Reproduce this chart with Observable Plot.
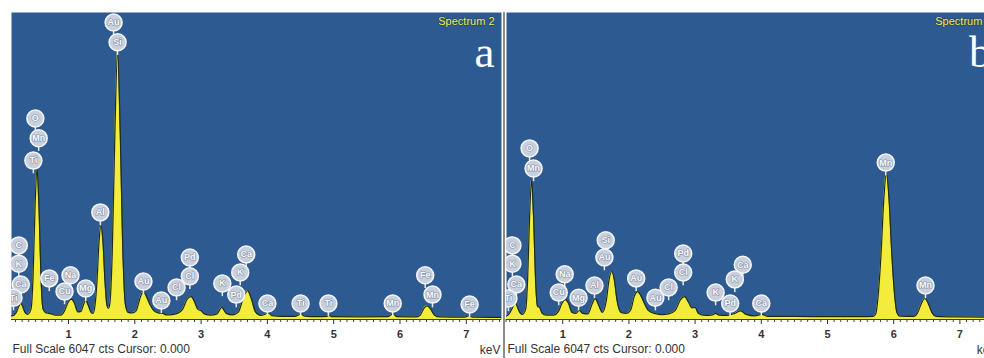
<!DOCTYPE html>
<html><head><meta charset="utf-8">
<script src="https://cdn.jsdelivr.net/npm/d3@7"></script>
<script src="https://cdn.jsdelivr.net/npm/@observablehq/plot@0.6"></script>
<style>
html,body{margin:0;padding:0;background:#fff;}
#wrap{position:relative;width:984px;height:358px;overflow:hidden;background:#fff;}
#pa{position:absolute;left:0;top:0;width:501px;}
#pb{position:absolute;left:506px;top:0;width:492px;}
#wrap svg{max-width:none !important;display:block;}
#sep{position:absolute;left:503px;top:12px;width:2px;height:346px;background:#8c8c8c;}
</style></head><body>
<div id="wrap"><div id="pa"></div><div id="sep"></div><div id="pb"></div></div>
<script>
// ---- data (keV, counts) ----
const fullScale = 6047;
const footerText = "Full Scale 6047 cts Cursor: 0.000";
const unitLabel = "keV";
const spectrumTitle = "Spectrum 2";
const panelLetters = ["a", "b"];
const majorTicks = [1, 2, 3, 4, 5, 6, 7];

const spectrumA = [[0.14,70],[0.18,90],[0.22,160],[0.25,260],[0.28,315],[0.31,250],[0.34,150],[0.38,100],
[0.435,210],[0.465,830],[0.495,2200],[0.525,2980],[0.555,2200],[0.585,830],[0.615,210],[0.65,140],
[0.70,120],[0.74,110],[0.80,85],[0.88,85],[0.94,170],[0.99,330],[1.04,400],[1.09,320],[1.14,150],[1.19,160],
[1.22,270],[1.26,375],[1.30,270],[1.34,140],[1.37,120],[1.40,280],[1.43,760],[1.46,1520],[1.49,1850],[1.52,1520],
[1.55,760],[1.58,280],[1.60,220],[1.62,280],[1.66,1330],[1.70,3700],[1.74,5300],[1.78,3700],[1.82,1330],[1.86,280],
[1.90,140],[1.96,130],[2.02,170],[2.07,380],[2.11,520],[2.14,530],[2.18,440],[2.23,290],[2.29,170],[2.35,130],
[2.42,120],[2.48,90],[2.56,95],[2.64,120],[2.72,200],[2.79,400],[2.85,450],[2.90,350],[2.95,200],[3.00,170],
[3.05,110],[3.14,85],[3.24,110],[3.31,240],[3.38,120],[3.47,90],[3.56,140],[3.63,400],[3.70,570],[3.76,400],
[3.82,150],[3.90,80],[3.96,100],[4.01,130],[4.07,75],[4.20,60],[4.42,60],[4.47,90],[4.51,110],[4.56,65],
[4.75,55],[4.89,60],[4.93,80],[4.97,55],[5.40,50],[5.82,55],[5.86,90],[5.90,110],[5.95,55],[6.24,50],
[6.30,80],[6.36,220],[6.41,270],[6.46,210],[6.52,85],[6.60,50],[6.96,45],[7.04,70],[7.09,45],[7.53,40]];

const spectrumB = [[0.15,70],[0.19,110],[0.23,200],[0.26,280],[0.29,315],[0.32,230],[0.35,140],[0.39,100],
[0.44,200],[0.47,780],[0.50,2030],[0.53,2740],[0.56,2030],[0.59,780],[0.62,260],[0.65,240],[0.69,120],
[0.75,85],[0.86,85],[0.94,170],[0.99,320],[1.04,390],[1.09,310],[1.14,140],[1.20,120],[1.25,180],[1.30,120],
[1.38,110],[1.44,290],[1.49,410],[1.54,290],[1.60,140],[1.66,380],[1.70,780],[1.74,945],[1.78,780],[1.82,380],
[1.88,140],[1.96,120],[2.03,200],[2.08,450],[2.13,550],[2.18,470],[2.24,300],[2.30,170],[2.40,115],[2.50,95],
[2.60,110],[2.70,180],[2.78,390],[2.84,450],[2.90,340],[2.95,230],[3.00,236],[3.05,120],[3.15,80],[3.26,90],
[3.31,120],[3.36,85],[3.48,80],[3.60,120],[3.69,170],[3.77,100],[3.90,70],[4.01,100],[4.10,60],[4.50,60],
[5.00,55],[5.50,55],[5.69,60],[5.73,120],[5.77,540],[5.81,1320],[5.85,2360],[5.89,2880],[5.93,2360],[5.97,1320],
[6.01,540],[6.05,130],[6.09,65],[6.30,60],[6.36,130],[6.42,320],[6.47,414],[6.52,320],[6.58,130],[6.64,60],
[7.00,50],[7.60,45]];

// element markers: [element, keV, counts level]
const labelsA = [["Au",1.68,5850],["Si",1.74,5460],["O",0.50,3960],["Mn",0.55,3570],["Ti",0.47,3130],
["C",0.25,1460],["K",0.25,1100],["Ca",0.28,690],["Ti",0.17,430],
["Fe",0.71,810],["Cu",0.94,550],["Na",1.03,870],["Mg",1.26,610],["Al",1.48,2110],
["Au",2.13,750],["Au",2.40,375],["Cl",2.63,630],["Pd",2.83,1220],["Cl",2.83,850],
["K",3.32,710],["Ca",3.68,1280],["K",3.59,925],["Pd",3.53,490],["Ca",4.00,315],
["Ti",4.50,315],["Ti",4.92,315],["Mn",5.89,315],["Fe",6.38,870],["Mn",6.49,490],["Fe",7.05,295]];

const labelsB = [["O",0.50,3370],["Mn",0.56,2975],["C",0.24,1460],["K",0.24,1100],["Ca",0.30,690],["Ti",0.18,415],
["Na",1.03,890],["Cu",0.94,530],["Mg",1.24,430],["Al",1.48,670],["Si",1.65,1560],["Au",1.63,1220],
["Au",2.11,810],["Au",2.40,430],["Cl",2.60,630],["Pd",2.82,1300],["Cl",2.82,925],
["K",3.31,530],["Ca",3.72,1080],["K",3.60,790],["Pd",3.53,315],["Ca",4.00,315],
["Mn",5.88,3090],["Mn",6.48,670]];

const minorTicks = d3.range(2, 77).filter(i => i % 10 !== 0).map(i => i / 10);

function panel(spec, labels, letter, xDomain, width, marginLeft) {
  const stem = 260;
  return Plot.plot({
    width, height: 358, marginTop: 12, marginBottom: 39, marginLeft, marginRight: 0,
    x: {domain: xDomain, axis: null},
    y: {domain: [0, fullScale], axis: null},
    style: {background: "transparent", fontFamily: "'Liberation Sans', Arial, sans-serif", overflow: "visible", maxWidth: "none"},
    marks: [
      Plot.frame({fill: "#2e5a92", stroke: null}),
      Plot.areaY(spec, {x: d => d[0], y: d => d[1], fill: "#f3ec3a", curve: "monotone-x", clip: true}),
      Plot.lineY(spec, {x: d => d[0], y: d => d[1], stroke: "#1f2d18", strokeWidth: 1.2, curve: "monotone-x", clip: true}),
      Plot.ruleX(labels, {x: d => d[1], y1: d => d[2], y2: d => d[2] - stem, stroke: "#e8ecf2", strokeWidth: 1.5, clip: true}),
      Plot.dot(labels, {x: d => d[1], y: d => d[2], r: 8.5, fill: "#c8d0dd", stroke: "#f4f6fa", strokeWidth: 1.5, clip: true}),
      Plot.text(labels, {x: d => d[1], y: d => d[2], text: d => d[0], fill: "#f8fafc", stroke: "#8592a8", strokeWidth: 1.2, paintOrder: "stroke", fontSize: 9, fontWeight: "bold", clip: true}),
      Plot.ruleY([0], {stroke: "#3a3a3a", strokeWidth: 1}),
      Plot.axisX(minorTicks, {tickSize: 3, tickFormat: () => "", color: "#444"}),
      Plot.axisX(majorTicks, {tickSize: 5, tickPadding: 6, fontSize: 11, fontWeight: "bold", color: "#333", tickFormat: d => String(d)}),
      Plot.text([spectrumTitle], {text: d => d, frameAnchor: "top-right", dx: -7, dy: 5, fontSize: 11, fill: "#eef078", stroke: "#2a3a2a", strokeWidth: 1, paintOrder: "stroke"}),
      Plot.text([letter], {text: d => d, frameAnchor: "top-right", dx: -7, dy: 54, lineAnchor: "bottom", fontSize: 45, fontFamily: "'Liberation Serif', 'Times New Roman', serif", fill: "white"}),
      Plot.text([footerText], {text: d => d, frameAnchor: "bottom-left", dx: 1, dy: 33, textAnchor: "start", fontSize: 12, fill: "#333"}),
      Plot.text([unitLabel], {text: d => d, frameAnchor: "bottom-right", dx: -1, dy: 34, textAnchor: "end", fontSize: 12, fill: "#333"})
    ]
  });
}

document.getElementById("pa").append(panel(spectrumA, labelsA, panelLetters[0], [0.140, 7.531], 501, 11));
document.getElementById("pb").append(panel(spectrumB, labelsB, panelLetters[1], [0.151, 7.583], 492, 0));
</script>
</body></html>
